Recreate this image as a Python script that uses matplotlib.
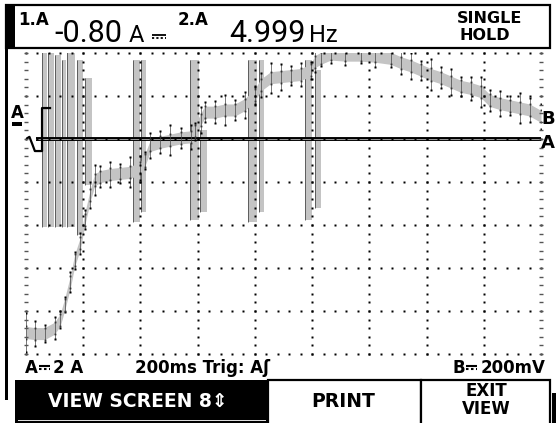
import numpy as np
import matplotlib.pyplot as plt
from matplotlib.patches import Rectangle
from matplotlib.lines import Line2D

# scope settings (from the status line)
MS_PER_DIV = 200.0
A_PER_DIV = 2.0
MV_PER_DIV = 200.0

# channel B trace
t_ms = [0, 30, 65, 100, 120, 135, 155, 170, 190, 205, 225, 240, 260, 295, 330, 365,
        400, 415, 435, 470, 505, 540, 575, 590, 610, 625, 660, 695, 730, 765, 800,
        820, 855, 890, 925, 960, 995, 1010, 1030, 1065, 1115, 1170, 1220, 1275, 1310,
        1345, 1380, 1415, 1450, 1485, 1520, 1555, 1590, 1620, 1655, 1690, 1725, 1760, 1800]
b_mv = [-900, -905, -905, -880, -840, -770, -665, -565, -485, -375, -260, -190, -175,
        -165, -160, -155, -135, -100, -30, -15, -5, 5, 10, 35, 90, 125, 125, 135, 135,
        160, 205, 250, 285, 290, 295, 300, 320, 360, 375, 395, 390, 390, 385, 375, 355,
        340, 320, 300, 285, 265, 245, 235, 220, 180, 165, 155, 145, 135, 105]
b_spread = [90, 60, 40, 50, 40, 35, 45, 40, 50, 45, 60, 70, 50, 60, 45, 70, 55, 40, 60,
            50, 70, 45, 55, 40, 60, 45, 50, 70, 45, 60, 40, 55, 70, 60, 45, 55, 40, 50,
            35, 40, 45, 35, 50, 40, 55, 60, 45, 70, 50, 60, 45, 55, 70, 50, 60, 45, 70,
            55, 60]

# channel A glitch bursts (gray columns)
burst_start_ms = [56, 77, 101, 126, 143, 178, 206, 374, 402, 573, 608, 776, 815, 975, 1010]
burst_end_ms = [74, 99, 123, 141, 173, 200, 232, 400, 421, 606, 634, 809, 833, 1001, 1032]
burst_top_a = [4.05, 4.05, 3.9, 3.67, 4.05, 3.67, 2.84, 3.67, 3.67, 3.67, 0.42, 3.67, 3.67, 3.67, 3.21]
burst_bot_a = [-4.09, -4.09, -4.09, -4.09, -4.09, -4.47, -2.14, -3.86, -3.40, -3.77, -3.40,
               -3.86, -3.40, -3.77, -3.21]

# trigger step marker of channel A (divisions)
trig_t = [0, 12, 22, 31, 56, 56, 84]
trig_y = [0.0, 0.05, -0.12, -0.28, -0.28, 0.72, 0.72]

W, H = 556, 423
BIG = ['Roboto', 'DejaVu Sans']
BOLD = ['DejaVu Sans']
GRAY = '#c4c4c4'


def fx(x):
    return x / W


def fy(y):
    return 1 - y / H


def dc_sign(fig, x0, x1, y, lw=1.3):
    # the "direct current" sign: solid bar over a dashed bar (no installed font has it)
    fig.lines.append(Line2D([fx(x0), fx(x1)], [fy(y), fy(y)], transform=fig.transFigure,
                            color='k', lw=lw, solid_capstyle='butt'))
    fig.lines.append(Line2D([fx(x0), fx(x1)], [fy(y + 3.5), fy(y + 3.5)], transform=fig.transFigure,
                            color='k', lw=lw, ls=(0, (1.2, 1.2))))


fig = plt.figure(figsize=(W / 100, H / 100), dpi=100)
ax = fig.add_axes([fx(26), fy(354), 515 / W, 301 / H])
ax.set_xlim(0, 9 * MS_PER_DIV)
ax.set_ylim(-5, 2)
ax.axis('off')

# dotted graticule
ys = np.arange(-5, 2.001, 0.2)
xs = np.arange(0, 9 * MS_PER_DIV + 1, MS_PER_DIV / 5)
for xv in np.arange(1, 9) * MS_PER_DIV:
    ax.plot(np.full_like(ys, xv), ys, ls='none', marker='s', ms=1.5, mfc='k', mec='none',
            zorder=5, clip_on=False)
for yv in range(-5, 3):
    ax.plot(xs, np.full_like(xs, yv), ls='none', marker='s', ms=1.5, mfc='k', mec='none',
            zorder=5, clip_on=False)
for xv in [0, 9 * MS_PER_DIV]:
    ax.plot(np.full_like(ys, xv), ys, ls='none', marker='_', ms=3, mew=1, color='#555555',
            zorder=5, clip_on=False)

# channel A bursts
st = np.array(burst_start_ms)
en = np.array(burst_end_ms)
top = np.array(burst_top_a) / A_PER_DIV
bot = np.array(burst_bot_a) / A_PER_DIV
ax.bar(st, top - bot, width=en - st, bottom=bot, align='edge', color=GRAY, lw=0, zorder=2)
ax.vlines(st, bot, top, color='#333333', lw=0.5, zorder=3)
ax.vlines(en, bot, top, color='white', lw=0.6, zorder=3)

# channel A baseline (double line)
ax.plot([35, 9 * MS_PER_DIV], [0, 0], color='k', lw=2.8, zorder=4, solid_capstyle='butt')
ax.plot([35, 9 * MS_PER_DIV], [0, 0], color='#9a9a9a', lw=0.7, zorder=4, solid_capstyle='butt')
ax.plot(trig_t, trig_y, color='k', lw=1.6, zorder=4)

# channel B
t = np.array(t_ms)
b = np.array(b_mv) / MV_PER_DIV
sp = np.array(b_spread) / MV_PER_DIV
band = 28 / MV_PER_DIV
ax.fill_between(t, b - band, b + band, color=GRAY, lw=0, zorder=3)
ax.vlines(t, b - sp, b + sp, color='#444444', lw=0.5, zorder=4)
ax.plot(t, b + sp, ls='none', marker='s', ms=1.6, mfc='k', mec='none', zorder=4)
ax.plot(t, b - sp, ls='none', marker='s', ms=1.6, mfc='k', mec='none', zorder=4)
ax.plot(t, b + band, ls='none', marker='s', ms=1.3, mfc='#333333', mec='none', zorder=4)
ax.plot(t, b - band, ls='none', marker='s', ms=1.3, mfc='#333333', mec='none', zorder=4)

# frame pieces
fig.patches.append(Rectangle((fx(6), fy(48)), (550 - 6) / W, 43 / H, transform=fig.transFigure,
                             fc='white', ec='k', lw=1.6))
fig.patches.append(Rectangle((fx(6), fy(48)), 9 / W, 43 / H, transform=fig.transFigure,
                             fc='k', ec='none'))
fig.patches.append(Rectangle((fx(5), fy(400)), 2.5 / W, 352 / H, transform=fig.transFigure,
                             fc='k', ec='none'))
fig.patches.append(Rectangle((fx(15), fy(430)), 253 / W, 50 / H, transform=fig.transFigure,
                             fc='k', ec='none'))
fig.patches.append(Rectangle((fx(18), fy(420.5)), 248 / W, 1 / H, transform=fig.transFigure,
                             fc='#dddddd', ec='none'))
fig.patches.append(Rectangle((fx(268), fy(430)), 153 / W, 50 / H, transform=fig.transFigure,
                             fc='white', ec='k', lw=1.6))
fig.patches.append(Rectangle((fx(421), fy(430)), 129 / W, 50 / H, transform=fig.transFigure,
                             fc='white', ec='k', lw=1.6))
fig.patches.append(Rectangle((fx(552), fy(430)), 6 / W, 37 / H, transform=fig.transFigure,
                             fc='k', ec='none'))
fig.patches.append(Rectangle((fx(12), fy(126)), 10 / W, 4 / H, transform=fig.transFigure,
                             fc='k', ec='none'))

# header readouts
fig.text(fx(18), fy(25), '1.A', family=BOLD, weight='bold', size=12, va='baseline')
fig.text(fx(54), fy(42), '-0.80', family=BIG, size=22, va='baseline')
fig.text(fx(129), fy(42), 'A', family=BIG, size=17, va='baseline')
dc_sign(fig, 152, 166, 35)
fig.text(fx(178), fy(25), '2.A', family=BOLD, weight='bold', size=12, va='baseline')
fig.text(fx(229), fy(42), '4.999', family=BIG, size=22, va='baseline')
fig.text(fx(309), fy(42), 'Hz', family=BIG, size=17, va='baseline')
fig.text(fx(490), fy(23), 'SINGLE', family=BOLD, weight='bold', size=11.5, va='baseline', ha='center')
fig.text(fx(485), fy(40), 'HOLD', family=BOLD, weight='bold', size=11.5, va='baseline', ha='center')

# trace markers
fig.text(fx(17), fy(118), 'A', family=BOLD, weight='bold', size=12, va='baseline', ha='center')
fig.text(fx(548), fy(124), 'B', family=BOLD, weight='bold', size=13, va='baseline', ha='center')
fig.text(fx(548), fy(148), 'A', family=BOLD, weight='bold', size=13, va='baseline', ha='center')

# status line
fig.text(fx(25), fy(373), 'A', family=BOLD, weight='bold', size=12, va='baseline')
dc_sign(fig, 39, 50, 365.5, lw=1.5)
fig.text(fx(53), fy(373), '2 A', family=BOLD, weight='bold', size=12, va='baseline')
fig.text(fx(135), fy(373), '200ms Trig: Aʃ', family=BOLD, weight='bold', size=12,
         va='baseline')
fig.text(fx(452), fy(373), 'B', family=BOLD, weight='bold', size=12, va='baseline')
dc_sign(fig, 466, 477, 365.5, lw=1.5)
fig.text(fx(545), fy(373), '200mV', family=BOLD, weight='bold', size=12,
         va='baseline', ha='right')

# soft-key menu
fig.text(fx(138), fy(401), 'VIEW SCREEN 8⇕', family=BOLD, weight='bold', size=13.5,
         color='white', va='center', ha='center')
fig.text(fx(343), fy(401), 'PRINT', family=BOLD, weight='bold', size=13.5,
         va='center', ha='center')
fig.text(fx(486), fy(391), 'EXIT', family=BOLD, weight='bold', size=12,
         va='center', ha='center')
fig.text(fx(486), fy(409), 'VIEW', family=BOLD, weight='bold', size=12,
         va='center', ha='center')

fig.savefig('out.png', dpi=100, facecolor='white')
